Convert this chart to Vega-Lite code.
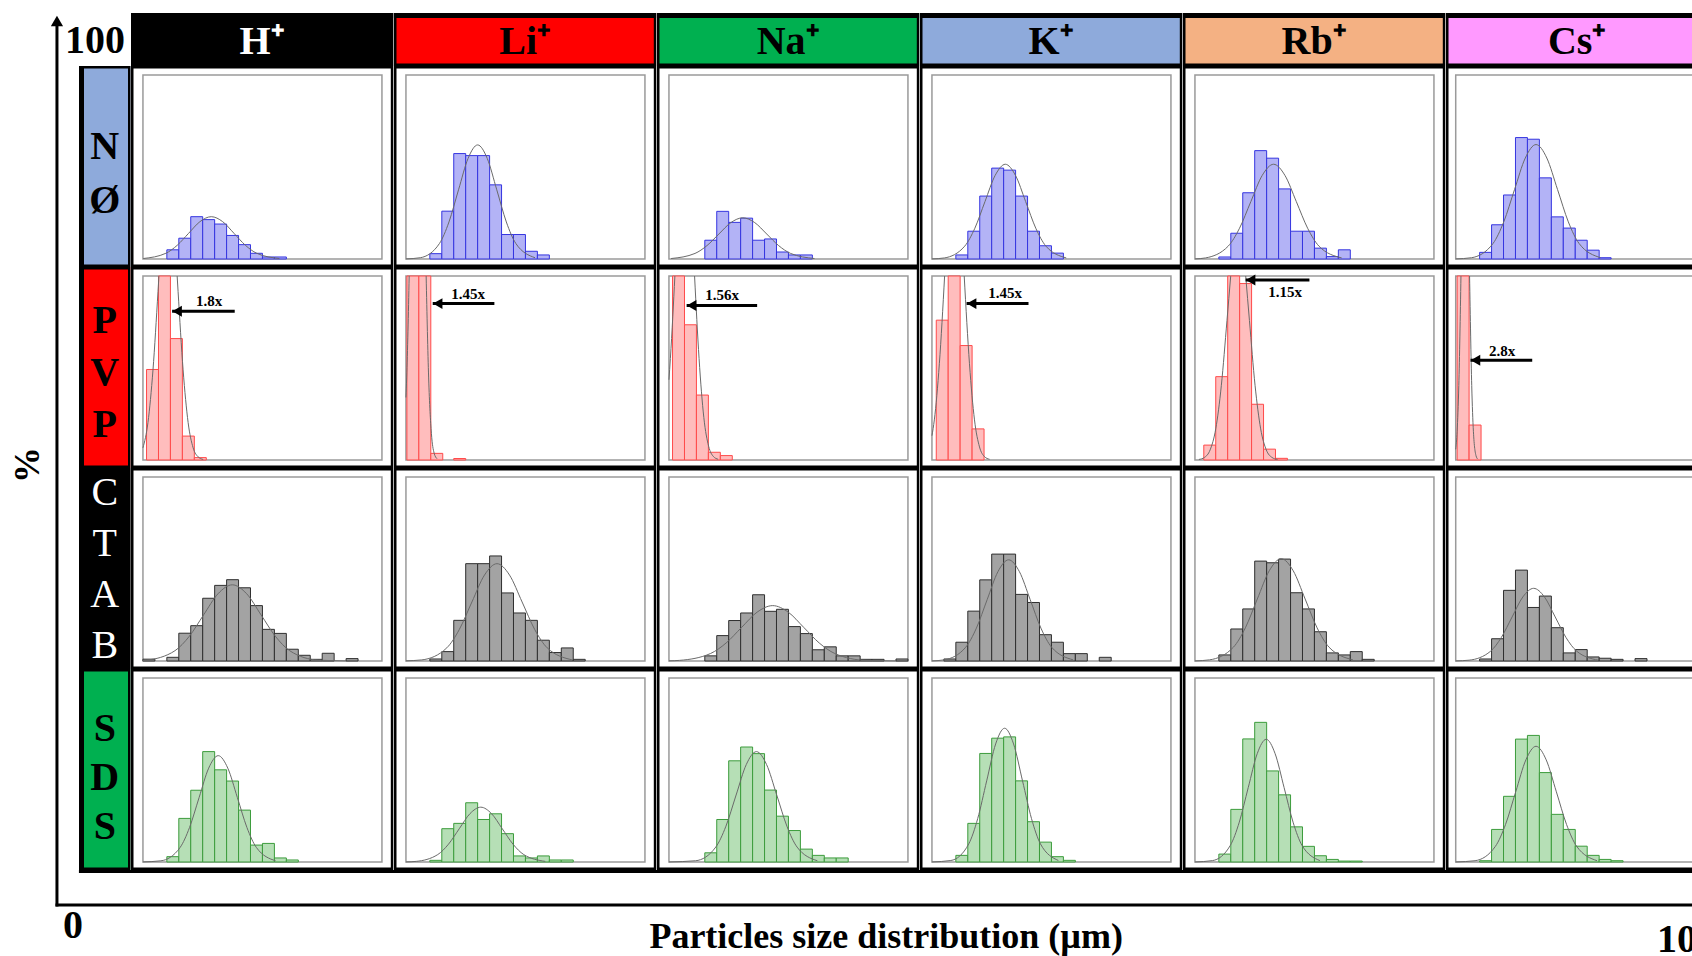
{
"$schema":"https://vega.github.io/schema/vega-lite/v6.json",
"background":"white",
"padding":{"top":13,"left":0,"right":0,"bottom":0},
"autosize":{"type":"pad"},
"config":{"font":"Liberation Serif","view":{"stroke":null},"concat":{"spacing":0},"facet":{"spacing":0}},
"datasets":{
"hdr":[{"c":"H","lab":"H⁺"},{"c":"Li","lab":"Li⁺"},{"c":"Na","lab":"Na⁺"},{"c":"K","lab":"K⁺"},{"c":"Rb","lab":"Rb⁺"},{"c":"Cs","lab":"Cs⁺"}],
"lab":[{"r":"N","lab":"N\nØ"},{"r":"P","lab":"P\nV\nP"},{"r":"C","lab":"C\nT\nA\nB"},{"r":"S","lab":"S\nD\nS"}],
"grid":[
{"t":"f","r":"N","c":"H"},{"t":"f","r":"N","c":"Li"},{"t":"f","r":"N","c":"Na"},{"t":"f","r":"N","c":"K"},{"t":"f","r":"N","c":"Rb"},{"t":"f","r":"N","c":"Cs"},
{"t":"f","r":"P","c":"H"},{"t":"f","r":"P","c":"Li"},{"t":"f","r":"P","c":"Na"},{"t":"f","r":"P","c":"K"},{"t":"f","r":"P","c":"Rb"},{"t":"f","r":"P","c":"Cs"},
{"t":"f","r":"C","c":"H"},{"t":"f","r":"C","c":"Li"},{"t":"f","r":"C","c":"Na"},{"t":"f","r":"C","c":"K"},{"t":"f","r":"C","c":"Rb"},{"t":"f","r":"C","c":"Cs"},
{"t":"f","r":"S","c":"H"},{"t":"f","r":"S","c":"Li"},{"t":"f","r":"S","c":"Na"},{"t":"f","r":"S","c":"K"},{"t":"f","r":"S","c":"Rb"},{"t":"f","r":"S","c":"Cs"},

{"t":"b","r":"N","c":"H","s":10,"e":15,"p":5},{"t":"b","r":"N","c":"H","s":15,"e":20,"p":11.3},{"t":"b","r":"N","c":"H","s":20,"e":25,"p":23},{"t":"b","r":"N","c":"H","s":25,"e":30,"p":21.4},{"t":"b","r":"N","c":"H","s":30,"e":35,"p":19},{"t":"b","r":"N","c":"H","s":35,"e":40,"p":12.8},{"t":"b","r":"N","c":"H","s":40,"e":45,"p":7.8},{"t":"b","r":"N","c":"H","s":45,"e":50,"p":3.1},{"t":"b","r":"N","c":"H","s":50,"e":55,"p":1.1},{"t":"b","r":"N","c":"H","s":55,"e":60,"p":1.1},
{"t":"b","r":"N","c":"Li","s":10,"e":15,"p":2.9},{"t":"b","r":"N","c":"Li","s":15,"e":20,"p":26},{"t":"b","r":"N","c":"Li","s":20,"e":25,"p":57.3},{"t":"b","r":"N","c":"Li","s":25,"e":30,"p":56.2},{"t":"b","r":"N","c":"Li","s":30,"e":35,"p":56.2},{"t":"b","r":"N","c":"Li","s":35,"e":40,"p":40.3},{"t":"b","r":"N","c":"Li","s":40,"e":45,"p":13.3},{"t":"b","r":"N","c":"Li","s":45,"e":50,"p":13.3},{"t":"b","r":"N","c":"Li","s":50,"e":55,"p":4.2},{"t":"b","r":"N","c":"Li","s":55,"e":60,"p":2.2},
{"t":"b","r":"N","c":"Na","s":15,"e":20,"p":10.2},{"t":"b","r":"N","c":"Na","s":20,"e":25,"p":25.9},{"t":"b","r":"N","c":"Na","s":25,"e":30,"p":19.9},{"t":"b","r":"N","c":"Na","s":30,"e":35,"p":22.2},{"t":"b","r":"N","c":"Na","s":35,"e":40,"p":10.2},{"t":"b","r":"N","c":"Na","s":40,"e":45,"p":10.9},{"t":"b","r":"N","c":"Na","s":45,"e":50,"p":3.8},{"t":"b","r":"N","c":"Na","s":50,"e":55,"p":2.2},{"t":"b","r":"N","c":"Na","s":55,"e":60,"p":2.2},
{"t":"b","r":"N","c":"K","s":10,"e":15,"p":2.2},{"t":"b","r":"N","c":"K","s":15,"e":20,"p":15.1},{"t":"b","r":"N","c":"K","s":20,"e":25,"p":34.2},{"t":"b","r":"N","c":"K","s":25,"e":30,"p":49.4},{"t":"b","r":"N","c":"K","s":30,"e":35,"p":48.3},{"t":"b","r":"N","c":"K","s":35,"e":40,"p":34.2},{"t":"b","r":"N","c":"K","s":40,"e":45,"p":15.1},{"t":"b","r":"N","c":"K","s":45,"e":50,"p":7.2},{"t":"b","r":"N","c":"K","s":50,"e":55,"p":3.2},
{"t":"b","r":"N","c":"Rb","s":10,"e":15,"p":1.1},{"t":"b","r":"N","c":"Rb","s":15,"e":20,"p":14},{"t":"b","r":"N","c":"Rb","s":20,"e":25,"p":36},{"t":"b","r":"N","c":"Rb","s":25,"e":30,"p":58.9},{"t":"b","r":"N","c":"Rb","s":30,"e":35,"p":54.8},{"t":"b","r":"N","c":"Rb","s":35,"e":40,"p":38.1},{"t":"b","r":"N","c":"Rb","s":40,"e":45,"p":15.1},{"t":"b","r":"N","c":"Rb","s":45,"e":50,"p":15.1},{"t":"b","r":"N","c":"Rb","s":50,"e":55,"p":5.9},{"t":"b","r":"N","c":"Rb","s":55,"e":60,"p":1.3},{"t":"b","r":"N","c":"Rb","s":60,"e":65,"p":5},
{"t":"b","r":"N","c":"Cs","s":10,"e":15,"p":3.6},{"t":"b","r":"N","c":"Cs","s":15,"e":20,"p":18.6},{"t":"b","r":"N","c":"Cs","s":20,"e":25,"p":34.8},{"t":"b","r":"N","c":"Cs","s":25,"e":30,"p":66},{"t":"b","r":"N","c":"Cs","s":30,"e":35,"p":65.1},{"t":"b","r":"N","c":"Cs","s":35,"e":40,"p":44.1},{"t":"b","r":"N","c":"Cs","s":40,"e":45,"p":22.9},{"t":"b","r":"N","c":"Cs","s":45,"e":50,"p":16.8},{"t":"b","r":"N","c":"Cs","s":50,"e":55,"p":10.2},{"t":"b","r":"N","c":"Cs","s":55,"e":60,"p":4.8},{"t":"b","r":"N","c":"Cs","s":60,"e":65,"p":0.7},

{"t":"b","r":"P","c":"H","s":1.5,"e":6.5,"p":49.2},{"t":"b","r":"P","c":"H","s":6.5,"e":11.5,"p":100},{"t":"b","r":"P","c":"H","s":11.5,"e":16.5,"p":66},{"t":"b","r":"P","c":"H","s":16.5,"e":21.5,"p":13},{"t":"b","r":"P","c":"H","s":21.5,"e":26.5,"p":1.3},
{"t":"b","r":"P","c":"Li","s":0.4,"e":5.4,"p":100},{"t":"b","r":"P","c":"Li","s":5.4,"e":10.4,"p":100},{"t":"b","r":"P","c":"Li","s":10.4,"e":15.4,"p":3.6},{"t":"b","r":"P","c":"Li","s":20,"e":25,"p":0.8},
{"t":"b","r":"P","c":"Na","s":1.5,"e":6.5,"p":100},{"t":"b","r":"P","c":"Na","s":6.5,"e":11.5,"p":73.5},{"t":"b","r":"P","c":"Na","s":11.5,"e":16.5,"p":35.3},{"t":"b","r":"P","c":"Na","s":16.5,"e":21.5,"p":4.2},{"t":"b","r":"P","c":"Na","s":21.5,"e":26.5,"p":2.4},
{"t":"b","r":"P","c":"K","s":1.8,"e":6.8,"p":76},{"t":"b","r":"P","c":"K","s":6.8,"e":11.8,"p":100},{"t":"b","r":"P","c":"K","s":11.8,"e":16.8,"p":62.2},{"t":"b","r":"P","c":"K","s":16.8,"e":21.8,"p":16.9},
{"t":"b","r":"P","c":"Rb","s":3.7,"e":8.7,"p":8.1},{"t":"b","r":"P","c":"Rb","s":8.7,"e":13.7,"p":45.3},{"t":"b","r":"P","c":"Rb","s":13.7,"e":18.7,"p":100},{"t":"b","r":"P","c":"Rb","s":18.7,"e":23.7,"p":95.9},{"t":"b","r":"P","c":"Rb","s":23.7,"e":28.7,"p":30.3},{"t":"b","r":"P","c":"Rb","s":28.7,"e":33.7,"p":5.9},{"t":"b","r":"P","c":"Rb","s":33.7,"e":38.7,"p":0.9},
{"t":"b","r":"P","c":"Cs","s":0.6,"e":5.6,"p":100},{"t":"b","r":"P","c":"Cs","s":5.6,"e":10.6,"p":19},

{"t":"b","r":"C","c":"H","s":0,"e":5,"p":1},{"t":"b","r":"C","c":"H","s":10,"e":15,"p":2},{"t":"b","r":"C","c":"H","s":15,"e":20,"p":15.1},{"t":"b","r":"C","c":"H","s":20,"e":25,"p":19.2},{"t":"b","r":"C","c":"H","s":25,"e":30,"p":34.1},{"t":"b","r":"C","c":"H","s":30,"e":35,"p":41.1},{"t":"b","r":"C","c":"H","s":35,"e":40,"p":44.2},{"t":"b","r":"C","c":"H","s":40,"e":45,"p":39.8},{"t":"b","r":"C","c":"H","s":45,"e":50,"p":30.1},{"t":"b","r":"C","c":"H","s":50,"e":55,"p":17.2},{"t":"b","r":"C","c":"H","s":55,"e":60,"p":15},{"t":"b","r":"C","c":"H","s":60,"e":65,"p":6.4},{"t":"b","r":"C","c":"H","s":65,"e":70,"p":3.1},{"t":"b","r":"C","c":"H","s":70,"e":75,"p":0.9},{"t":"b","r":"C","c":"H","s":75,"e":80,"p":4.2},{"t":"b","r":"C","c":"H","s":85,"e":90,"p":1.3},
{"t":"b","r":"C","c":"Li","s":10,"e":15,"p":1.1},{"t":"b","r":"C","c":"Li","s":15,"e":20,"p":5.1},{"t":"b","r":"C","c":"Li","s":20,"e":25,"p":22.1},{"t":"b","r":"C","c":"Li","s":25,"e":30,"p":52.9},{"t":"b","r":"C","c":"Li","s":30,"e":35,"p":52.9},{"t":"b","r":"C","c":"Li","s":35,"e":40,"p":57.1},{"t":"b","r":"C","c":"Li","s":40,"e":45,"p":37},{"t":"b","r":"C","c":"Li","s":45,"e":50,"p":26.1},{"t":"b","r":"C","c":"Li","s":50,"e":55,"p":22.1},{"t":"b","r":"C","c":"Li","s":55,"e":60,"p":11.3},{"t":"b","r":"C","c":"Li","s":60,"e":65,"p":4.6},{"t":"b","r":"C","c":"Li","s":65,"e":70,"p":7.1},{"t":"b","r":"C","c":"Li","s":70,"e":75,"p":0.9},
{"t":"b","r":"C","c":"Na","s":15,"e":20,"p":2.8},{"t":"b","r":"C","c":"Na","s":20,"e":25,"p":13.8},{"t":"b","r":"C","c":"Na","s":25,"e":30,"p":22},{"t":"b","r":"C","c":"Na","s":30,"e":35,"p":26.1},{"t":"b","r":"C","c":"Na","s":35,"e":40,"p":36},{"t":"b","r":"C","c":"Na","s":40,"e":45,"p":27},{"t":"b","r":"C","c":"Na","s":45,"e":50,"p":28.1},{"t":"b","r":"C","c":"Na","s":50,"e":55,"p":18.7},{"t":"b","r":"C","c":"Na","s":55,"e":60,"p":14.9},{"t":"b","r":"C","c":"Na","s":60,"e":65,"p":6.1},{"t":"b","r":"C","c":"Na","s":65,"e":70,"p":7.7},{"t":"b","r":"C","c":"Na","s":70,"e":75,"p":2.8},{"t":"b","r":"C","c":"Na","s":75,"e":80,"p":2.8},{"t":"b","r":"C","c":"Na","s":80,"e":85,"p":0.9},{"t":"b","r":"C","c":"Na","s":85,"e":90,"p":0.9},{"t":"b","r":"C","c":"Na","s":95,"e":100,"p":1.1},
{"t":"b","r":"C","c":"K","s":5,"e":10,"p":1.1},{"t":"b","r":"C","c":"K","s":10,"e":15,"p":10.2},{"t":"b","r":"C","c":"K","s":15,"e":20,"p":27.1},{"t":"b","r":"C","c":"K","s":20,"e":25,"p":44.1},{"t":"b","r":"C","c":"K","s":25,"e":30,"p":58.1},{"t":"b","r":"C","c":"K","s":30,"e":35,"p":58.1},{"t":"b","r":"C","c":"K","s":35,"e":40,"p":36.2},{"t":"b","r":"C","c":"K","s":40,"e":45,"p":31.8},{"t":"b","r":"C","c":"K","s":45,"e":50,"p":14.3},{"t":"b","r":"C","c":"K","s":50,"e":55,"p":10.2},{"t":"b","r":"C","c":"K","s":55,"e":60,"p":4},{"t":"b","r":"C","c":"K","s":60,"e":65,"p":4},{"t":"b","r":"C","c":"K","s":70,"e":75,"p":2},
{"t":"b","r":"C","c":"Rb","s":10,"e":15,"p":3.3},{"t":"b","r":"C","c":"Rb","s":15,"e":20,"p":17.4},{"t":"b","r":"C","c":"Rb","s":20,"e":25,"p":28.3},{"t":"b","r":"C","c":"Rb","s":25,"e":30,"p":54.3},{"t":"b","r":"C","c":"Rb","s":30,"e":35,"p":53.4},{"t":"b","r":"C","c":"Rb","s":35,"e":40,"p":55.4},{"t":"b","r":"C","c":"Rb","s":40,"e":45,"p":37.1},{"t":"b","r":"C","c":"Rb","s":45,"e":50,"p":28.3},{"t":"b","r":"C","c":"Rb","s":50,"e":55,"p":15.9},{"t":"b","r":"C","c":"Rb","s":55,"e":60,"p":4.4},{"t":"b","r":"C","c":"Rb","s":60,"e":65,"p":3.3},{"t":"b","r":"C","c":"Rb","s":65,"e":70,"p":5.1},{"t":"b","r":"C","c":"Rb","s":70,"e":75,"p":0.9},
{"t":"b","r":"C","c":"Cs","s":10,"e":15,"p":1.1},{"t":"b","r":"C","c":"Cs","s":15,"e":20,"p":12.1},{"t":"b","r":"C","c":"Cs","s":20,"e":25,"p":38.4},{"t":"b","r":"C","c":"Cs","s":25,"e":30,"p":49.4},{"t":"b","r":"C","c":"Cs","s":30,"e":35,"p":29.1},{"t":"b","r":"C","c":"Cs","s":35,"e":40,"p":35.3},{"t":"b","r":"C","c":"Cs","s":40,"e":45,"p":18.1},{"t":"b","r":"C","c":"Cs","s":45,"e":50,"p":4.4},{"t":"b","r":"C","c":"Cs","s":50,"e":55,"p":6.2},{"t":"b","r":"C","c":"Cs","s":55,"e":60,"p":2.2},{"t":"b","r":"C","c":"Cs","s":60,"e":65,"p":1.5},{"t":"b","r":"C","c":"Cs","s":65,"e":70,"p":0.9},{"t":"b","r":"C","c":"Cs","s":75,"e":80,"p":1.3},

{"t":"b","r":"S","c":"H","s":10,"e":15,"p":2.9},{"t":"b","r":"S","c":"H","s":15,"e":20,"p":23.7},{"t":"b","r":"S","c":"H","s":20,"e":25,"p":39},{"t":"b","r":"S","c":"H","s":25,"e":30,"p":60},{"t":"b","r":"S","c":"H","s":30,"e":35,"p":50.1},{"t":"b","r":"S","c":"H","s":35,"e":40,"p":44},{"t":"b","r":"S","c":"H","s":40,"e":45,"p":28.2},{"t":"b","r":"S","c":"H","s":45,"e":50,"p":9.2},{"t":"b","r":"S","c":"H","s":50,"e":55,"p":10.1},{"t":"b","r":"S","c":"H","s":55,"e":60,"p":2.2},{"t":"b","r":"S","c":"H","s":60,"e":65,"p":1.1},
{"t":"b","r":"S","c":"Li","s":10,"e":15,"p":0.9},{"t":"b","r":"S","c":"Li","s":15,"e":20,"p":18.1},{"t":"b","r":"S","c":"Li","s":20,"e":25,"p":21},{"t":"b","r":"S","c":"Li","s":25,"e":30,"p":32.2},{"t":"b","r":"S","c":"Li","s":30,"e":35,"p":23.1},{"t":"b","r":"S","c":"Li","s":35,"e":40,"p":26.2},{"t":"b","r":"S","c":"Li","s":40,"e":45,"p":15.4},{"t":"b","r":"S","c":"Li","s":45,"e":50,"p":3.3},{"t":"b","r":"S","c":"Li","s":50,"e":55,"p":2.2},{"t":"b","r":"S","c":"Li","s":55,"e":60,"p":3.3},{"t":"b","r":"S","c":"Li","s":60,"e":65,"p":1.1},{"t":"b","r":"S","c":"Li","s":65,"e":70,"p":1.1},
{"t":"b","r":"S","c":"Na","s":15,"e":20,"p":5},{"t":"b","r":"S","c":"Na","s":20,"e":25,"p":23.1},{"t":"b","r":"S","c":"Na","s":25,"e":30,"p":55},{"t":"b","r":"S","c":"Na","s":30,"e":35,"p":62.5},{"t":"b","r":"S","c":"Na","s":35,"e":40,"p":58.9},{"t":"b","r":"S","c":"Na","s":40,"e":45,"p":39.1},{"t":"b","r":"S","c":"Na","s":45,"e":50,"p":24.9},{"t":"b","r":"S","c":"Na","s":50,"e":55,"p":17.1},{"t":"b","r":"S","c":"Na","s":55,"e":60,"p":7},{"t":"b","r":"S","c":"Na","s":60,"e":65,"p":3.6},{"t":"b","r":"S","c":"Na","s":65,"e":70,"p":2.2},{"t":"b","r":"S","c":"Na","s":70,"e":75,"p":2.2},
{"t":"b","r":"S","c":"K","s":10,"e":15,"p":3.6},{"t":"b","r":"S","c":"K","s":15,"e":20,"p":21},{"t":"b","r":"S","c":"K","s":20,"e":25,"p":59},{"t":"b","r":"S","c":"K","s":25,"e":30,"p":67.3},{"t":"b","r":"S","c":"K","s":30,"e":35,"p":68},{"t":"b","r":"S","c":"K","s":35,"e":40,"p":44.1},{"t":"b","r":"S","c":"K","s":40,"e":45,"p":21.9},{"t":"b","r":"S","c":"K","s":45,"e":50,"p":10.8},{"t":"b","r":"S","c":"K","s":50,"e":55,"p":2.9},{"t":"b","r":"S","c":"K","s":55,"e":60,"p":0.9},
{"t":"b","r":"S","c":"Rb","s":10,"e":15,"p":4.3},{"t":"b","r":"S","c":"Rb","s":15,"e":20,"p":28.6},{"t":"b","r":"S","c":"Rb","s":20,"e":25,"p":66.9},{"t":"b","r":"S","c":"Rb","s":25,"e":30,"p":75.9},{"t":"b","r":"S","c":"Rb","s":30,"e":35,"p":49.5},{"t":"b","r":"S","c":"Rb","s":35,"e":40,"p":36.5},{"t":"b","r":"S","c":"Rb","s":40,"e":45,"p":19.1},{"t":"b","r":"S","c":"Rb","s":45,"e":50,"p":8.5},{"t":"b","r":"S","c":"Rb","s":50,"e":55,"p":3.4},{"t":"b","r":"S","c":"Rb","s":55,"e":60,"p":1.4},{"t":"b","r":"S","c":"Rb","s":60,"e":65,"p":0.5},{"t":"b","r":"S","c":"Rb","s":65,"e":70,"p":0.5},
{"t":"b","r":"S","c":"Cs","s":10,"e":15,"p":0.7},{"t":"b","r":"S","c":"Cs","s":15,"e":20,"p":17.7},{"t":"b","r":"S","c":"Cs","s":20,"e":25,"p":35.7},{"t":"b","r":"S","c":"Cs","s":25,"e":30,"p":66.8},{"t":"b","r":"S","c":"Cs","s":30,"e":35,"p":68.8},{"t":"b","r":"S","c":"Cs","s":35,"e":40,"p":48.6},{"t":"b","r":"S","c":"Cs","s":40,"e":45,"p":25.9},{"t":"b","r":"S","c":"Cs","s":45,"e":50,"p":17.7},{"t":"b","r":"S","c":"Cs","s":50,"e":55,"p":8.6},{"t":"b","r":"S","c":"Cs","s":55,"e":60,"p":3.6},{"t":"b","r":"S","c":"Cs","s":60,"e":65,"p":1.4},{"t":"b","r":"S","c":"Cs","s":65,"e":70,"p":0.7},

{"t":"c","r":"N","c":"H","s":0.1,"p":0.26},{"t":"c","r":"N","c":"H","s":9.6,"p":3.11},{"t":"c","r":"N","c":"H","s":14.35,"p":7.47},{"t":"c","r":"N","c":"H","s":19.1,"p":13.95},{"t":"c","r":"N","c":"H","s":23.85,"p":20.3},{"t":"c","r":"N","c":"H","s":28.6,"p":23},{"t":"c","r":"N","c":"H","s":33.35,"p":20.3},{"t":"c","r":"N","c":"H","s":38.1,"p":13.95},{"t":"c","r":"N","c":"H","s":42.85,"p":7.47},{"t":"c","r":"N","c":"H","s":47.6,"p":3.11},{"t":"c","r":"N","c":"H","s":57.1,"p":0.26},
{"t":"c","r":"N","c":"Li","s":0,"p":0.05},{"t":"c","r":"N","c":"Li","s":6,"p":0.69},{"t":"c","r":"N","c":"Li","s":14,"p":8.39},{"t":"c","r":"N","c":"Li","s":18,"p":20.13},{"t":"c","r":"N","c":"Li","s":22,"p":37.6},{"t":"c","r":"N","c":"Li","s":26,"p":54.7},{"t":"c","r":"N","c":"Li","s":30,"p":62},{"t":"c","r":"N","c":"Li","s":34,"p":54.7},{"t":"c","r":"N","c":"Li","s":38,"p":37.6},{"t":"c","r":"N","c":"Li","s":42,"p":20.13},{"t":"c","r":"N","c":"Li","s":46,"p":8.39},{"t":"c","r":"N","c":"Li","s":54,"p":0.69},
{"t":"c","r":"N","c":"Na","s":0.9,"p":0.25},{"t":"c","r":"N","c":"Na","s":10.9,"p":3.03},{"t":"c","r":"N","c":"Na","s":15.9,"p":7.27},{"t":"c","r":"N","c":"Na","s":20.9,"p":13.59},{"t":"c","r":"N","c":"Na","s":25.9,"p":19.77},{"t":"c","r":"N","c":"Na","s":30.9,"p":22.4},{"t":"c","r":"N","c":"Na","s":35.9,"p":19.77},{"t":"c","r":"N","c":"Na","s":40.9,"p":13.59},{"t":"c","r":"N","c":"Na","s":45.9,"p":7.27},{"t":"c","r":"N","c":"Na","s":50.9,"p":3.03},{"t":"c","r":"N","c":"Na","s":60.9,"p":0.25},
{"t":"c","r":"N","c":"K","s":0,"p":0.05},{"t":"c","r":"N","c":"K","s":5.2,"p":0.57},{"t":"c","r":"N","c":"K","s":13.7,"p":6.97},{"t":"c","r":"N","c":"K","s":17.95,"p":16.72},{"t":"c","r":"N","c":"K","s":22.2,"p":31.24},{"t":"c","r":"N","c":"K","s":26.45,"p":45.45},{"t":"c","r":"N","c":"K","s":30.7,"p":51.5},{"t":"c","r":"N","c":"K","s":34.95,"p":45.45},{"t":"c","r":"N","c":"K","s":39.2,"p":31.24},{"t":"c","r":"N","c":"K","s":43.45,"p":16.72},{"t":"c","r":"N","c":"K","s":47.7,"p":6.97},{"t":"c","r":"N","c":"K","s":56.2,"p":0.57},
{"t":"c","r":"N","c":"Rb","s":0,"p":0.05},{"t":"c","r":"N","c":"Rb","s":4.4,"p":0.57},{"t":"c","r":"N","c":"Rb","s":13.9,"p":6.97},{"t":"c","r":"N","c":"Rb","s":18.65,"p":16.72},{"t":"c","r":"N","c":"Rb","s":23.4,"p":31.24},{"t":"c","r":"N","c":"Rb","s":28.15,"p":45.45},{"t":"c","r":"N","c":"Rb","s":32.9,"p":51.5},{"t":"c","r":"N","c":"Rb","s":37.65,"p":45.45},{"t":"c","r":"N","c":"Rb","s":42.4,"p":31.24},{"t":"c","r":"N","c":"Rb","s":47.15,"p":16.72},{"t":"c","r":"N","c":"Rb","s":51.9,"p":6.97},{"t":"c","r":"N","c":"Rb","s":61.4,"p":0.57},
{"t":"c","r":"N","c":"Cs","s":0,"p":0.05},{"t":"c","r":"N","c":"Cs","s":6.6,"p":0.69},{"t":"c","r":"N","c":"Cs","s":15.6,"p":8.42},{"t":"c","r":"N","c":"Cs","s":20.1,"p":20.2},{"t":"c","r":"N","c":"Cs","s":24.6,"p":37.72},{"t":"c","r":"N","c":"Cs","s":29.1,"p":54.89},{"t":"c","r":"N","c":"Cs","s":33.6,"p":62.2},{"t":"c","r":"N","c":"Cs","s":38.1,"p":54.89},{"t":"c","r":"N","c":"Cs","s":42.6,"p":37.72},{"t":"c","r":"N","c":"Cs","s":47.1,"p":20.2},{"t":"c","r":"N","c":"Cs","s":51.6,"p":8.42},{"t":"c","r":"N","c":"Cs","s":60.6,"p":0.69},

{"t":"c","r":"P","c":"H","g":"L","s":0,"p":6.6},{"t":"c","r":"P","c":"H","g":"L","s":2.1,"p":20.4},{"t":"c","r":"P","c":"H","g":"L","s":4.2,"p":49},{"t":"c","r":"P","c":"H","g":"L","s":6.3,"p":91.6},{"t":"c","r":"P","c":"H","g":"L","s":6.69,"p":100},
{"t":"c","r":"P","c":"H","g":"R","s":14.31,"p":100},{"t":"c","r":"P","c":"H","g":"R","s":14.7,"p":91.6},{"t":"c","r":"P","c":"H","g":"R","s":16.8,"p":49},{"t":"c","r":"P","c":"H","g":"R","s":18.9,"p":20.4},{"t":"c","r":"P","c":"H","g":"R","s":21,"p":6.6},{"t":"c","r":"P","c":"H","g":"R","s":23.1,"p":1.7},{"t":"c","r":"P","c":"H","g":"R","s":25.2,"p":0.3},
{"t":"c","r":"P","c":"Li","g":"L","s":0,"p":34},{"t":"c","r":"P","c":"Li","g":"L","s":0.3,"p":44.6},{"t":"c","r":"P","c":"Li","g":"L","s":0.85,"p":70},{"t":"c","r":"P","c":"Li","g":"L","s":1.35,"p":100},
{"t":"c","r":"P","c":"Li","g":"R","s":8.45,"p":100},{"t":"c","r":"P","c":"Li","g":"R","s":9.5,"p":44.6},{"t":"c","r":"P","c":"Li","g":"R","s":10.65,"p":14.5},{"t":"c","r":"P","c":"Li","g":"R","s":11.8,"p":3.7},{"t":"c","r":"P","c":"Li","g":"R","s":13,"p":0.7},
{"t":"c","r":"P","c":"Na","g":"L","s":0,"p":43.6},{"t":"c","r":"P","c":"Na","g":"L","s":0.6,"p":55.2},{"t":"c","r":"P","c":"Na","g":"L","s":1.6,"p":77.8},{"t":"c","r":"P","c":"Na","g":"L","s":2.48,"p":100},
{"t":"c","r":"P","c":"Na","g":"R","s":10.72,"p":100},{"t":"c","r":"P","c":"Na","g":"R","s":12.6,"p":55.2},{"t":"c","r":"P","c":"Na","g":"R","s":14.6,"p":23},{"t":"c","r":"P","c":"Na","g":"R","s":16.6,"p":7.5},{"t":"c","r":"P","c":"Na","g":"R","s":18.6,"p":1.9},{"t":"c","r":"P","c":"Na","g":"R","s":20.6,"p":0.4},
{"t":"c","r":"P","c":"K","g":"L","s":0,"p":13.2},{"t":"c","r":"P","c":"K","g":"L","s":1,"p":21.8},{"t":"c","r":"P","c":"K","g":"L","s":3.1,"p":52.3},{"t":"c","r":"P","c":"K","g":"L","s":5.3,"p":100},
{"t":"c","r":"P","c":"K","g":"R","s":13.5,"p":100},{"t":"c","r":"P","c":"K","g":"R","s":15.7,"p":52.3},{"t":"c","r":"P","c":"K","g":"R","s":17.8,"p":21.8},{"t":"c","r":"P","c":"K","g":"R","s":19.9,"p":7.1},{"t":"c","r":"P","c":"K","g":"R","s":22,"p":1.8},{"t":"c","r":"P","c":"K","g":"R","s":24.1,"p":0.4},
{"t":"c","r":"P","c":"Rb","g":"L","s":1.65,"p":0.3},{"t":"c","r":"P","c":"Rb","g":"L","s":4,"p":1.4},{"t":"c","r":"P","c":"Rb","g":"L","s":6.35,"p":5.5},{"t":"c","r":"P","c":"Rb","g":"L","s":8.7,"p":16.9},{"t":"c","r":"P","c":"Rb","g":"L","s":11.05,"p":40.6},{"t":"c","r":"P","c":"Rb","g":"L","s":13.4,"p":75.8},{"t":"c","r":"P","c":"Rb","g":"L","s":14.96,"p":100},
{"t":"c","r":"P","c":"Rb","g":"R","s":21.24,"p":100},{"t":"c","r":"P","c":"Rb","g":"R","s":22.8,"p":75.8},{"t":"c","r":"P","c":"Rb","g":"R","s":25.15,"p":40.6},{"t":"c","r":"P","c":"Rb","g":"R","s":27.5,"p":16.9},{"t":"c","r":"P","c":"Rb","g":"R","s":29.85,"p":5.5},{"t":"c","r":"P","c":"Rb","g":"R","s":32.2,"p":1.4},{"t":"c","r":"P","c":"Rb","g":"R","s":34.55,"p":0.3},
{"t":"c","r":"P","c":"Cs","g":"L","s":0,"p":5.8},{"t":"c","r":"P","c":"Cs","g":"L","s":0.6,"p":15.6},{"t":"c","r":"P","c":"Cs","g":"L","s":1.3,"p":40.5},{"t":"c","r":"P","c":"Cs","g":"L","s":2.2,"p":100},
{"t":"c","r":"P","c":"Cs","g":"R","s":5.8,"p":100},{"t":"c","r":"P","c":"Cs","g":"R","s":6.7,"p":40.5},{"t":"c","r":"P","c":"Cs","g":"R","s":7.4,"p":15.6},{"t":"c","r":"P","c":"Cs","g":"R","s":8.5,"p":2.3},{"t":"c","r":"P","c":"Cs","g":"R","s":9.25,"p":0.45},

{"t":"c","r":"C","c":"H","s":0,"p":0.3},{"t":"c","r":"C","c":"H","s":1.4,"p":0.46},{"t":"c","r":"C","c":"H","s":13.4,"p":5.6},{"t":"c","r":"C","c":"H","s":19.4,"p":13.44},{"t":"c","r":"C","c":"H","s":25.4,"p":25.11},{"t":"c","r":"C","c":"H","s":31.4,"p":36.54},{"t":"c","r":"C","c":"H","s":37.4,"p":41.4},{"t":"c","r":"C","c":"H","s":43.4,"p":36.54},{"t":"c","r":"C","c":"H","s":49.4,"p":25.11},{"t":"c","r":"C","c":"H","s":55.4,"p":13.44},{"t":"c","r":"C","c":"H","s":61.4,"p":5.6},{"t":"c","r":"C","c":"H","s":73.4,"p":0.46},{"t":"c","r":"C","c":"H","s":85,"p":0.05},
{"t":"c","r":"C","c":"Li","s":0,"p":0.1},{"t":"c","r":"C","c":"Li","s":6.6,"p":0.59},{"t":"c","r":"C","c":"Li","s":17.1,"p":7.16},{"t":"c","r":"C","c":"Li","s":22.35,"p":17.18},{"t":"c","r":"C","c":"Li","s":27.6,"p":32.08},{"t":"c","r":"C","c":"Li","s":32.85,"p":46.68},{"t":"c","r":"C","c":"Li","s":38.1,"p":52.9},{"t":"c","r":"C","c":"Li","s":43.35,"p":46.68},{"t":"c","r":"C","c":"Li","s":48.6,"p":32.08},{"t":"c","r":"C","c":"Li","s":53.85,"p":17.18},{"t":"c","r":"C","c":"Li","s":59.1,"p":7.16},{"t":"c","r":"C","c":"Li","s":69.6,"p":0.59},
{"t":"c","r":"C","c":"Na","s":0,"p":0.1},{"t":"c","r":"C","c":"Na","s":4.4,"p":0.33},{"t":"c","r":"C","c":"Na","s":17.4,"p":4.07},{"t":"c","r":"C","c":"Na","s":23.9,"p":9.77},{"t":"c","r":"C","c":"Na","s":30.4,"p":18.26},{"t":"c","r":"C","c":"Na","s":36.9,"p":26.56},{"t":"c","r":"C","c":"Na","s":43.4,"p":30.1},{"t":"c","r":"C","c":"Na","s":49.9,"p":26.56},{"t":"c","r":"C","c":"Na","s":56.4,"p":18.26},{"t":"c","r":"C","c":"Na","s":62.9,"p":9.77},{"t":"c","r":"C","c":"Na","s":69.4,"p":4.07},{"t":"c","r":"C","c":"Na","s":82.4,"p":0.33},{"t":"c","r":"C","c":"Na","s":95,"p":0.03},
{"t":"c","r":"C","c":"K","s":0,"p":0.05},{"t":"c","r":"C","c":"K","s":5.1,"p":0.61},{"t":"c","r":"C","c":"K","s":14.1,"p":7.44},{"t":"c","r":"C","c":"K","s":18.6,"p":17.86},{"t":"c","r":"C","c":"K","s":23.1,"p":33.36},{"t":"c","r":"C","c":"K","s":27.6,"p":48.54},{"t":"c","r":"C","c":"K","s":32.1,"p":55},{"t":"c","r":"C","c":"K","s":36.6,"p":48.54},{"t":"c","r":"C","c":"K","s":41.1,"p":33.36},{"t":"c","r":"C","c":"K","s":45.6,"p":17.86},{"t":"c","r":"C","c":"K","s":50.1,"p":7.44},{"t":"c","r":"C","c":"K","s":59.1,"p":0.61},
{"t":"c","r":"C","c":"Rb","s":0,"p":0.05},{"t":"c","r":"C","c":"Rb","s":6.1,"p":0.62},{"t":"c","r":"C","c":"Rb","s":16.1,"p":7.52},{"t":"c","r":"C","c":"Rb","s":21.1,"p":18.05},{"t":"c","r":"C","c":"Rb","s":26.1,"p":33.72},{"t":"c","r":"C","c":"Rb","s":31.1,"p":49.07},{"t":"c","r":"C","c":"Rb","s":36.1,"p":55.6},{"t":"c","r":"C","c":"Rb","s":41.1,"p":49.07},{"t":"c","r":"C","c":"Rb","s":46.1,"p":33.72},{"t":"c","r":"C","c":"Rb","s":51.1,"p":18.05},{"t":"c","r":"C","c":"Rb","s":56.1,"p":7.52},{"t":"c","r":"C","c":"Rb","s":66.1,"p":0.62},
{"t":"c","r":"C","c":"Cs","s":0,"p":0.05},{"t":"c","r":"C","c":"Cs","s":5.6,"p":0.44},{"t":"c","r":"C","c":"Cs","s":14.6,"p":5.34},{"t":"c","r":"C","c":"Cs","s":19.1,"p":12.83},{"t":"c","r":"C","c":"Cs","s":23.6,"p":23.96},{"t":"c","r":"C","c":"Cs","s":28.1,"p":34.86},{"t":"c","r":"C","c":"Cs","s":32.6,"p":39.5},{"t":"c","r":"C","c":"Cs","s":37.1,"p":34.86},{"t":"c","r":"C","c":"Cs","s":41.6,"p":23.96},{"t":"c","r":"C","c":"Cs","s":46.1,"p":12.83},{"t":"c","r":"C","c":"Cs","s":50.6,"p":5.34},{"t":"c","r":"C","c":"Cs","s":59.6,"p":0.44},

{"t":"c","r":"S","c":"H","s":0,"p":0.05},{"t":"c","r":"S","c":"H","s":7.5,"p":0.64},{"t":"c","r":"S","c":"H","s":15.5,"p":7.82},{"t":"c","r":"S","c":"H","s":19.5,"p":18.77},{"t":"c","r":"S","c":"H","s":23.5,"p":35.06},{"t":"c","r":"S","c":"H","s":27.5,"p":51.01},{"t":"c","r":"S","c":"H","s":31.5,"p":57.8},{"t":"c","r":"S","c":"H","s":35.5,"p":51.01},{"t":"c","r":"S","c":"H","s":39.5,"p":35.06},{"t":"c","r":"S","c":"H","s":43.5,"p":18.77},{"t":"c","r":"S","c":"H","s":47.5,"p":7.82},{"t":"c","r":"S","c":"H","s":55.5,"p":0.64},
{"t":"c","r":"S","c":"Li","s":0,"p":0.05},{"t":"c","r":"S","c":"Li","s":4.3,"p":0.33},{"t":"c","r":"S","c":"Li","s":13.3,"p":4.03},{"t":"c","r":"S","c":"Li","s":17.8,"p":9.68},{"t":"c","r":"S","c":"Li","s":22.3,"p":18.07},{"t":"c","r":"S","c":"Li","s":26.8,"p":26.3},{"t":"c","r":"S","c":"Li","s":31.3,"p":29.8},{"t":"c","r":"S","c":"Li","s":35.8,"p":26.3},{"t":"c","r":"S","c":"Li","s":40.3,"p":18.07},{"t":"c","r":"S","c":"Li","s":44.8,"p":9.68},{"t":"c","r":"S","c":"Li","s":49.3,"p":4.03},{"t":"c","r":"S","c":"Li","s":58.3,"p":0.33},
{"t":"c","r":"S","c":"Na","s":0,"p":0.03},{"t":"c","r":"S","c":"Na","s":11.1,"p":0.67},{"t":"c","r":"S","c":"Na","s":19.6,"p":8.12},{"t":"c","r":"S","c":"Na","s":23.85,"p":19.48},{"t":"c","r":"S","c":"Na","s":28.1,"p":36.39},{"t":"c","r":"S","c":"Na","s":32.35,"p":52.95},{"t":"c","r":"S","c":"Na","s":36.6,"p":60},{"t":"c","r":"S","c":"Na","s":40.85,"p":52.95},{"t":"c","r":"S","c":"Na","s":45.1,"p":36.39},{"t":"c","r":"S","c":"Na","s":49.35,"p":19.48},{"t":"c","r":"S","c":"Na","s":53.6,"p":8.12},{"t":"c","r":"S","c":"Na","s":62.1,"p":0.67},
{"t":"c","r":"S","c":"K","s":0,"p":0.03},{"t":"c","r":"S","c":"K","s":7.9,"p":0.81},{"t":"c","r":"S","c":"K","s":15.4,"p":9.84},{"t":"c","r":"S","c":"K","s":19.15,"p":23.61},{"t":"c","r":"S","c":"K","s":22.9,"p":44.09},{"t":"c","r":"S","c":"K","s":26.65,"p":64.16},{"t":"c","r":"S","c":"K","s":30.4,"p":72.7},{"t":"c","r":"S","c":"K","s":34.15,"p":64.16},{"t":"c","r":"S","c":"K","s":37.9,"p":44.09},{"t":"c","r":"S","c":"K","s":41.65,"p":23.61},{"t":"c","r":"S","c":"K","s":45.4,"p":9.84},{"t":"c","r":"S","c":"K","s":52.9,"p":0.81},
{"t":"c","r":"S","c":"Rb","s":0,"p":0.03},{"t":"c","r":"S","c":"Rb","s":7.3,"p":0.74},{"t":"c","r":"S","c":"Rb","s":14.8,"p":9.02},{"t":"c","r":"S","c":"Rb","s":18.55,"p":21.66},{"t":"c","r":"S","c":"Rb","s":22.3,"p":40.45},{"t":"c","r":"S","c":"Rb","s":26.05,"p":58.86},{"t":"c","r":"S","c":"Rb","s":29.8,"p":66.7},{"t":"c","r":"S","c":"Rb","s":33.55,"p":58.86},{"t":"c","r":"S","c":"Rb","s":37.3,"p":40.45},{"t":"c","r":"S","c":"Rb","s":41.05,"p":21.66},{"t":"c","r":"S","c":"Rb","s":44.8,"p":9.02},{"t":"c","r":"S","c":"Rb","s":52.3,"p":0.74},
{"t":"c","r":"S","c":"Cs","s":0,"p":0.03},{"t":"c","r":"S","c":"Cs","s":8.1,"p":0.7},{"t":"c","r":"S","c":"Cs","s":16.6,"p":8.51},{"t":"c","r":"S","c":"Cs","s":20.85,"p":20.42},{"t":"c","r":"S","c":"Cs","s":25.1,"p":38.15},{"t":"c","r":"S","c":"Cs","s":29.35,"p":55.51},{"t":"c","r":"S","c":"Cs","s":33.6,"p":62.9},{"t":"c","r":"S","c":"Cs","s":37.85,"p":55.51},{"t":"c","r":"S","c":"Cs","s":42.1,"p":38.15},{"t":"c","r":"S","c":"Cs","s":46.35,"p":20.42},{"t":"c","r":"S","c":"Cs","s":50.6,"p":8.51},{"t":"c","r":"S","c":"Cs","s":59.1,"p":0.7},

{"t":"a","r":"P","c":"H","s":38.4,"e":12.2,"p":80.8,"lx":27.7,"ly":86.3,"txt":"1.8x"},
{"t":"a","r":"P","c":"Li","s":37,"e":11.2,"p":85,"lx":26,"ly":90,"txt":"1.45x"},
{"t":"a","r":"P","c":"Na","s":36.9,"e":7.4,"p":84,"lx":22.3,"ly":89.5,"txt":"1.56x"},
{"t":"a","r":"P","c":"K","s":40.4,"e":14.5,"p":85,"lx":30.6,"ly":90.5,"txt":"1.45x"},
{"t":"a","r":"P","c":"Rb","s":47.9,"e":21.2,"p":97.8,"lx":37.7,"ly":91.4,"txt":"1.15x"},
{"t":"a","r":"P","c":"Cs","s":32,"e":6.2,"p":54.2,"lx":19.4,"ly":59.2,"txt":"2.8x"}
]},
"resolve":{"scale":{"fill":"independent","stroke":"independent","color":"independent"}},
"vconcat":[
 {"hconcat":[
   {"width":130.5,"height":53,"data":{"values":[{}]},
    "layer":[
     {"mark":{"type":"rule","color":"black","strokeWidth":3,"clip":true},"encoding":{"x":{"datum":-0.1,"type":"quantitative","scale":{"domain":[-0.4551,0.3585],"nice":false,"zero":false},"axis":null},"y":{"datum":96.5,"type":"quantitative","scale":{"domain":[97.0,103.12],"nice":false,"zero":false},"axis":null},"y2":{"datum":101.9}}},
     {"mark":{"type":"point","shape":"triangle-up","filled":true,"color":"black","opacity":1,"size":150,"clip":true},"encoding":{"x":{"datum":-0.1,"type":"quantitative","scale":{"domain":[-0.4551,0.3585],"nice":false,"zero":false},"axis":null},"y":{"datum":102.2,"type":"quantitative","scale":{"domain":[97.0,103.12],"nice":false,"zero":false},"axis":null}}},
     {"mark":{"type":"text","fontSize":40,"fontWeight":"bold","align":"right","baseline":"middle","color":"black","clip":true},"encoding":{"x":{"datum":0.324,"type":"quantitative","scale":{"domain":[-0.4551,0.3585],"nice":false,"zero":false},"axis":null},"y":{"datum":99.9,"type":"quantitative","scale":{"domain":[97.0,103.12],"nice":false,"zero":false},"axis":null},"text":{"value":"100"}}}
    ]},
   {"data":{"name":"hdr"},"transform":[{"filter":"datum.c !== 'Cs'"}],"spacing":0,
    "facet":{"column":{"field":"c","type":"nominal","sort":["H","Li","Na","K","Rb"],"header":null}},
    "spec":{"width":262.3,"height":53,"layer":[
      {"mark":{"type":"rect","stroke":"black","strokeWidth":5,"clip":true},"encoding":{"x":{"datum":0,"type":"quantitative","scale":{"domain":[0,1],"nice":false,"zero":false},"axis":null},"x2":{"datum":1},"y":{"datum":0,"type":"quantitative","scale":{"domain":[0,1],"nice":false,"zero":false},"axis":null},"y2":{"datum":1},"fill":{"field":"c","type":"nominal","scale":{"domain":["H","Li","Na","K","Rb","Cs"],"range":["#000000","#ff0000","#00b050","#8eaadb","#f4b183","#ff99ff"]},"legend":null}}},
      {"mark":{"type":"rule","color":"black","strokeWidth":10,"clip":true},"encoding":{"x":{"datum":0,"type":"quantitative","scale":{"domain":[0,1],"nice":false,"zero":false},"axis":null},"x2":{"datum":1},"y":{"datum":1,"type":"quantitative","scale":{"domain":[0,1],"nice":false,"zero":false},"axis":null}}},
      {"mark":{"type":"text","fontSize":40,"fontWeight":"bold","align":"center","baseline":"middle","clip":true},"encoding":{"x":{"datum":0.5,"type":"quantitative","scale":{"domain":[0,1],"nice":false,"zero":false},"axis":null},"y":{"datum":0.45,"type":"quantitative","scale":{"domain":[0,1],"nice":false,"zero":false},"axis":null},"text":{"field":"lab"},"color":{"condition":{"test":"datum.c === 'H'","value":"white"},"value":"black"}}}
    ]}},
   {"data":{"name":"hdr"},"transform":[{"filter":"datum.c === 'Cs'"}],"width":250,"height":53,"layer":[
      {"mark":{"type":"rect","stroke":"black","strokeWidth":5,"clip":true},"encoding":{"x":{"datum":0,"type":"quantitative","scale":{"domain":[0,0.9531],"nice":false,"zero":false},"axis":null},"x2":{"datum":1.2},"y":{"datum":0,"type":"quantitative","scale":{"domain":[0,1],"nice":false,"zero":false},"axis":null},"y2":{"datum":1},"fill":{"value":"#ff99ff"}}},
      {"mark":{"type":"rule","color":"black","strokeWidth":10,"clip":true},"encoding":{"x":{"datum":0,"type":"quantitative","scale":{"domain":[0,0.9531],"nice":false,"zero":false},"axis":null},"x2":{"datum":1.2},"y":{"datum":1,"type":"quantitative","scale":{"domain":[0,1],"nice":false,"zero":false},"axis":null}}},
      {"mark":{"type":"text","fontSize":40,"fontWeight":"bold","align":"center","baseline":"middle","color":"black","clip":true},"encoding":{"x":{"datum":0.5,"type":"quantitative","scale":{"domain":[0,0.9531],"nice":false,"zero":false},"axis":null},"y":{"datum":0.45,"type":"quantitative","scale":{"domain":[0,1],"nice":false,"zero":false},"axis":null},"text":{"field":"lab"}}}
   ]}
 ],"spacing":0,"resolve":{"scale":{"fill":"independent","stroke":"independent","color":"independent"}}},
 {"hconcat":[
   {"width":79,"height":804,"data":{"values":[{}]},
    "layer":[
     {"mark":{"type":"rule","color":"black","strokeWidth":3,"clip":true},"encoding":{"x":{"datum":-0.1,"type":"quantitative","scale":{"domain":[-0.4551,0.0374],"nice":false,"zero":false},"axis":null},"y":{"datum":3.5,"type":"quantitative","scale":{"domain":[4.05,97.0],"nice":false,"zero":false},"axis":null},"y2":{"datum":97.5}}},
     {"mark":{"type":"text","fontSize":36,"fontWeight":"bold","align":"center","baseline":"middle","angle":270,"color":"black","clip":true},"encoding":{"x":{"datum":-0.28,"type":"quantitative","scale":{"domain":[-0.4551,0.0374],"nice":false,"zero":false},"axis":null},"y":{"datum":50.87,"type":"quantitative","scale":{"domain":[4.05,97.0],"nice":false,"zero":false},"axis":null},"text":{"value":"%"}}}
    ]},
   {"data":{"name":"lab"},"spacing":0,
    "facet":{"row":{"field":"r","type":"nominal","sort":["N","P","C","S"],"header":null}},
    "spec":{"width":51.5,"height":201,"layer":[
      {"mark":{"type":"rect","stroke":"black","strokeWidth":5,"clip":true},"encoding":{"x":{"datum":0,"type":"quantitative","scale":{"domain":[0,1],"nice":false,"zero":false},"axis":null},"x2":{"datum":1},"y":{"datum":0,"type":"quantitative","scale":{"domain":[0,1],"nice":false,"zero":false},"axis":null},"y2":{"datum":1},"fill":{"field":"r","type":"nominal","scale":{"domain":["N","P","C","S"],"range":["#8eaadb","#ff0000","#000000","#00b050"]},"legend":null}}},
      {"mark":{"type":"rule","color":"black","strokeWidth":10,"clip":true},"encoding":{"x":{"datum":0,"type":"quantitative","scale":{"domain":[0,1],"nice":false,"zero":false},"axis":null},"y":{"datum":0,"type":"quantitative","scale":{"domain":[0,1],"nice":false,"zero":false},"axis":null},"y2":{"datum":1}}},
      {"transform":[{"filter":"datum.r === 'N'"}],"mark":{"type":"text","fontSize":40,"fontWeight":"bold","align":"center","baseline":"middle","color":"black","lineBreak":"\n","lineHeight":54,"clip":true},"encoding":{"x":{"datum":0.5,"type":"quantitative","scale":{"domain":[0,1],"nice":false,"zero":false},"axis":null},"y":{"datum":0.597,"type":"quantitative","scale":{"domain":[0,1],"nice":false,"zero":false},"axis":null},"text":{"field":"lab"}}},
      {"transform":[{"filter":"datum.r === 'P'"}],"mark":{"type":"text","fontSize":40,"fontWeight":"bold","align":"center","baseline":"middle","color":"black","lineBreak":"\n","lineHeight":52,"clip":true},"encoding":{"x":{"datum":0.5,"type":"quantitative","scale":{"domain":[0,1],"nice":false,"zero":false},"axis":null},"y":{"datum":0.731,"type":"quantitative","scale":{"domain":[0,1],"nice":false,"zero":false},"axis":null},"text":{"field":"lab"}}},
      {"transform":[{"filter":"datum.r === 'S'"}],"mark":{"type":"text","fontSize":40,"fontWeight":"bold","align":"center","baseline":"middle","color":"black","lineBreak":"\n","lineHeight":49,"clip":true},"encoding":{"x":{"datum":0.5,"type":"quantitative","scale":{"domain":[0,1],"nice":false,"zero":false},"axis":null},"y":{"datum":0.7,"type":"quantitative","scale":{"domain":[0,1],"nice":false,"zero":false},"axis":null},"text":{"field":"lab"}}},
      {"transform":[{"filter":"datum.r === 'C'"}],"mark":{"type":"text","fontSize":40,"fontWeight":"normal","align":"center","baseline":"middle","color":"white","lineBreak":"\n","lineHeight":51,"clip":true},"encoding":{"x":{"datum":0.5,"type":"quantitative","scale":{"domain":[0,1],"nice":false,"zero":false},"axis":null},"y":{"datum":0.876,"type":"quantitative","scale":{"domain":[0,1],"nice":false,"zero":false},"axis":null},"text":{"field":"lab"}}}
    ]}},
   {"data":{"name":"grid"},"transform":[{"filter":"datum.c !== 'Cs'"}],"spacing":0,
    "facet":{"row":{"field":"r","type":"nominal","sort":["N","P","C","S"],"header":null},"column":{"field":"c","type":"nominal","sort":["H","Li","Na","K","Rb"],"header":null}},
    "spec":{"width":262.3,"height":201,"layer":[
      {"transform":[{"filter":"datum.t === 'f'"}],"mark":{"type":"rect","fill":"white","fillOpacity":0,"stroke":"black","strokeWidth":5,"clip":true},"encoding":{"x":{"datum":-5,"type":"quantitative","scale":{"domain":[-5,104.75],"nice":false,"zero":false},"axis":null},"x2":{"datum":104.75},"y":{"datum":-4.35,"type":"quantitative","scale":{"domain":[-4.35,104.9],"nice":false,"zero":false},"axis":null},"y2":{"datum":104.9}}},
      {"transform":[{"filter":"datum.t === 'f'"}],"mark":{"type":"rect","fill":"white","stroke":"#9a9a9a","strokeWidth":1.5},"encoding":{"x":{"datum":0,"type":"quantitative","scale":{"domain":[-5,104.75],"nice":false,"zero":false},"axis":null},"x2":{"datum":100},"y":{"datum":0,"type":"quantitative","scale":{"domain":[-4.35,104.9],"nice":false,"zero":false},"axis":null},"y2":{"datum":100}}},
      {"transform":[{"filter":"datum.t === 'b'"}],"mark":{"type":"rect","strokeWidth":1},"encoding":{"x":{"field":"s","type":"quantitative","scale":{"domain":[-5,104.75],"nice":false,"zero":false},"axis":null},"x2":{"field":"e"},"y":{"field":"p","type":"quantitative","scale":{"domain":[-4.35,104.9],"nice":false,"zero":false},"axis":null},"y2":{"datum":0},"fill":{"field":"r","type":"nominal","scale":{"domain":["N","P","C","S"],"range":["#b3b3f6","#ffbdbd","#a3a3a3","#b6dfb6"]},"legend":null},"stroke":{"field":"r","type":"nominal","scale":{"domain":["N","P","C","S"],"range":["#3535e0","#ff4a4a","#2f2f2f","#3c9c3c"]},"legend":null}}},
      {"transform":[{"filter":"datum.t === 'c'"}],"mark":{"type":"line","color":"#6a6a6a","strokeWidth":1,"interpolate":"monotone"},"encoding":{"x":{"field":"s","type":"quantitative","scale":{"domain":[-5,104.75],"nice":false,"zero":false},"axis":null},"y":{"field":"p","type":"quantitative","scale":{"domain":[-4.35,104.9],"nice":false,"zero":false},"axis":null},"detail":{"field":"g"}}},
      {"transform":[{"filter":"datum.t === 'a'"}],"mark":{"type":"rule","color":"black","strokeWidth":3},"encoding":{"x":{"field":"s","type":"quantitative","scale":{"domain":[-5,104.75],"nice":false,"zero":false},"axis":null},"x2":{"field":"e"},"y":{"field":"p","type":"quantitative","scale":{"domain":[-4.35,104.9],"nice":false,"zero":false},"axis":null}}},
      {"transform":[{"filter":"datum.t === 'a'"}],"mark":{"type":"point","shape":"triangle-left","filled":true,"color":"black","opacity":1,"size":120,"xOffset":5},"encoding":{"x":{"field":"e","type":"quantitative","scale":{"domain":[-5,104.75],"nice":false,"zero":false},"axis":null},"y":{"field":"p","type":"quantitative","scale":{"domain":[-4.35,104.9],"nice":false,"zero":false},"axis":null}}},
      {"transform":[{"filter":"datum.t === 'a'"}],"mark":{"type":"text","fontSize":15,"fontWeight":"bold","align":"center","baseline":"middle","color":"black"},"encoding":{"x":{"field":"lx","type":"quantitative","scale":{"domain":[-5,104.75],"nice":false,"zero":false},"axis":null},"y":{"field":"ly","type":"quantitative","scale":{"domain":[-4.35,104.9],"nice":false,"zero":false},"axis":null},"text":{"field":"txt"}}}
    ]}},
   {"data":{"name":"grid"},"transform":[{"filter":"datum.c === 'Cs'"}],"spacing":0,
    "facet":{"row":{"field":"r","type":"nominal","sort":["N","P","C","S"],"header":null}},
    "spec":{"width":250,"height":201,"layer":[
      {"transform":[{"filter":"datum.t === 'f'"}],"mark":{"type":"rect","fill":"white","stroke":"#9a9a9a","strokeWidth":1.5,"clip":true},"encoding":{"x":{"datum":0,"type":"quantitative","scale":{"domain":[-4.06,100.5],"nice":false,"zero":false},"axis":null},"x2":{"datum":103},"y":{"datum":0,"type":"quantitative","scale":{"domain":[-4.35,104.9],"nice":false,"zero":false},"axis":null},"y2":{"datum":100}}},
      {"transform":[{"filter":"datum.t === 'b'"}],"mark":{"type":"rect","strokeWidth":1},"encoding":{"x":{"field":"s","type":"quantitative","scale":{"domain":[-4.06,100.5],"nice":false,"zero":false},"axis":null},"x2":{"field":"e"},"y":{"field":"p","type":"quantitative","scale":{"domain":[-4.35,104.9],"nice":false,"zero":false},"axis":null},"y2":{"datum":0},"fill":{"field":"r","type":"nominal","scale":{"domain":["N","P","C","S"],"range":["#b3b3f6","#ffbdbd","#a3a3a3","#b6dfb6"]},"legend":null},"stroke":{"field":"r","type":"nominal","scale":{"domain":["N","P","C","S"],"range":["#3535e0","#ff4a4a","#2f2f2f","#3c9c3c"]},"legend":null}}},
      {"transform":[{"filter":"datum.t === 'c'"}],"mark":{"type":"line","color":"#6a6a6a","strokeWidth":1,"interpolate":"monotone"},"encoding":{"x":{"field":"s","type":"quantitative","scale":{"domain":[-4.06,100.5],"nice":false,"zero":false},"axis":null},"y":{"field":"p","type":"quantitative","scale":{"domain":[-4.35,104.9],"nice":false,"zero":false},"axis":null},"detail":{"field":"g"}}},
      {"transform":[{"filter":"datum.t === 'a'"}],"mark":{"type":"rule","color":"black","strokeWidth":3},"encoding":{"x":{"field":"s","type":"quantitative","scale":{"domain":[-4.06,100.5],"nice":false,"zero":false},"axis":null},"x2":{"field":"e"},"y":{"field":"p","type":"quantitative","scale":{"domain":[-4.35,104.9],"nice":false,"zero":false},"axis":null}}},
      {"transform":[{"filter":"datum.t === 'a'"}],"mark":{"type":"point","shape":"triangle-left","filled":true,"color":"black","opacity":1,"size":120,"xOffset":5},"encoding":{"x":{"field":"e","type":"quantitative","scale":{"domain":[-4.06,100.5],"nice":false,"zero":false},"axis":null},"y":{"field":"p","type":"quantitative","scale":{"domain":[-4.35,104.9],"nice":false,"zero":false},"axis":null}}},
      {"transform":[{"filter":"datum.t === 'a'"}],"mark":{"type":"text","fontSize":15,"fontWeight":"bold","align":"center","baseline":"middle","color":"black"},"encoding":{"x":{"field":"lx","type":"quantitative","scale":{"domain":[-4.06,100.5],"nice":false,"zero":false},"axis":null},"y":{"field":"ly","type":"quantitative","scale":{"domain":[-4.35,104.9],"nice":false,"zero":false},"axis":null},"text":{"field":"txt"}}},
      {"transform":[{"filter":"datum.t === 'f'"}],"mark":{"type":"rect","fill":"white","fillOpacity":0,"stroke":"black","strokeWidth":5,"clip":true},"encoding":{"x":{"datum":-4.06,"type":"quantitative","scale":{"domain":[-4.06,100.5],"nice":false,"zero":false},"axis":null},"x2":{"datum":150},"y":{"datum":-4.35,"type":"quantitative","scale":{"domain":[-4.35,104.9],"nice":false,"zero":false},"axis":null},"y2":{"datum":104.9}}}
    ]}}
 ],"spacing":0,"resolve":{"scale":{"fill":"independent","stroke":"independent","color":"independent"}}},
 {"width":1692,"height":86,"data":{"values":[{}]},
  "layer":[
   {"mark":{"type":"rule","color":"black","strokeWidth":3,"clip":true},"encoding":{"x":{"datum":-0.1,"type":"quantitative","scale":{"domain":[-0.4551,10.0935],"nice":false,"zero":false},"axis":null},"y":{"datum":4.5,"type":"quantitative","scale":{"domain":[-5.896,4.05],"nice":false,"zero":false},"axis":null},"y2":{"datum":-0.17}}},
   {"mark":{"type":"rule","color":"black","strokeWidth":3,"clip":true},"encoding":{"x":{"datum":0.037,"type":"quantitative","scale":{"domain":[-0.4551,10.0935],"nice":false,"zero":false},"axis":null},"x2":{"datum":10.2},"y":{"datum":3.873,"type":"quantitative","scale":{"domain":[-5.896,4.05],"nice":false,"zero":false},"axis":null}}},
   {"mark":{"type":"rule","color":"black","strokeWidth":3,"clip":true},"encoding":{"x":{"datum":-0.109,"type":"quantitative","scale":{"domain":[-0.4551,10.0935],"nice":false,"zero":false},"axis":null},"x2":{"datum":10.2},"y":{"datum":0,"type":"quantitative","scale":{"domain":[-5.896,4.05],"nice":false,"zero":false},"axis":null}}},
   {"mark":{"type":"text","fontSize":40,"fontWeight":"bold","align":"center","baseline":"middle","color":"black","clip":true},"encoding":{"x":{"datum":0,"type":"quantitative","scale":{"domain":[-0.4551,10.0935],"nice":false,"zero":false},"axis":null},"y":{"datum":-2.43,"type":"quantitative","scale":{"domain":[-5.896,4.05],"nice":false,"zero":false},"axis":null},"text":{"value":"0"}}},
   {"mark":{"type":"text","fontSize":40,"fontWeight":"bold","align":"center","baseline":"middle","color":"black","clip":true},"encoding":{"x":{"datum":10,"type":"quantitative","scale":{"domain":[-0.4551,10.0935],"nice":false,"zero":false},"axis":null},"y":{"datum":-4.05,"type":"quantitative","scale":{"domain":[-5.896,4.05],"nice":false,"zero":false},"axis":null},"text":{"value":"10"}}},
   {"mark":{"type":"text","fontSize":36,"fontWeight":"bold","align":"center","baseline":"middle","color":"black","clip":true},"encoding":{"x":{"datum":5.07,"type":"quantitative","scale":{"domain":[-0.4551,10.0935],"nice":false,"zero":false},"axis":null},"y":{"datum":-3.7,"type":"quantitative","scale":{"domain":[-5.896,4.05],"nice":false,"zero":false},"axis":null},"text":{"value":"Particles size distribution (µm)"}}}
  ]}
],
"spacing":0
}
